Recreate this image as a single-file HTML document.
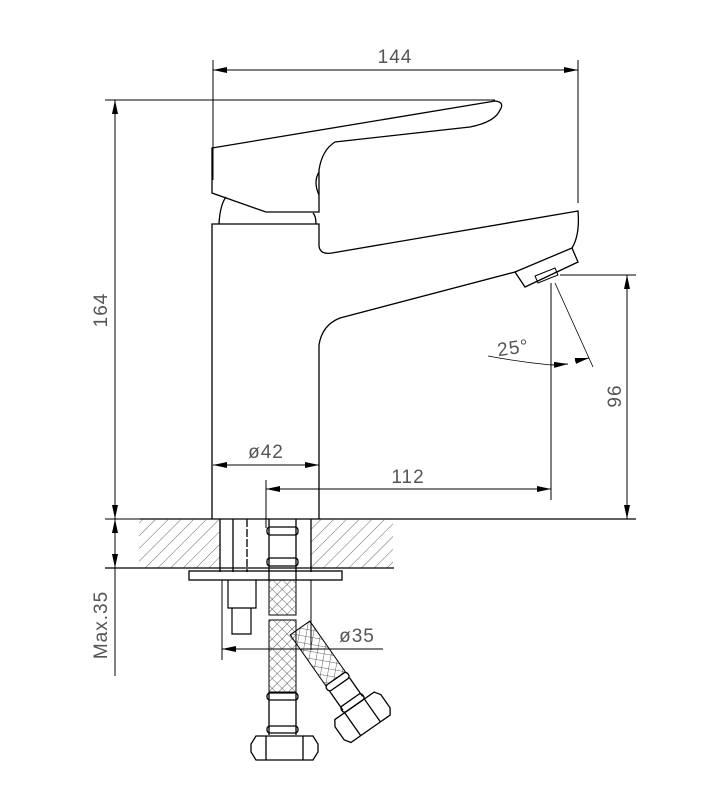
<!DOCTYPE html>
<html><head><meta charset="utf-8"><style>html,body{margin:0;padding:0;background:#fff}svg{display:block}</style></head>
<body>
<svg width="704" height="800" viewBox="0 0 704 800" xmlns="http://www.w3.org/2000/svg">
<defs>
<pattern id="h" width="9" height="9" patternUnits="userSpaceOnUse" patternTransform="rotate(45)"><line x1="0" y1="0" x2="0" y2="9" stroke="#444" stroke-width="0.8"/></pattern>
<pattern id="x" width="7" height="7" patternUnits="userSpaceOnUse" patternTransform="rotate(45)"><path d="M0 0V7M0 0H7" stroke="#333" stroke-width="0.8" fill="none"/></pattern>
<marker id="a" markerWidth="14" markerHeight="6" refX="14" refY="3" orient="auto-start-reverse" markerUnits="userSpaceOnUse"><path d="M0 0L14 3L0 6z" fill="#000"/></marker>
</defs>
<g fill="none" stroke="#000" stroke-width="1.3">
<line x1="213" y1="60" x2="213" y2="180" stroke-width="1"/>
<line x1="578" y1="60" x2="578" y2="203" stroke-width="1"/>
<line x1="213" y1="70" x2="578" y2="70" stroke-width="1" marker-start="url(#a)" marker-end="url(#a)"/>
<line x1="105" y1="100" x2="495" y2="100" stroke-width="1"/>
<line x1="115" y1="100" x2="115" y2="519" stroke-width="1" marker-start="url(#a)" marker-end="url(#a)"/>
<path d="M212 148 L495 101 Q505 102 500 110 Q495 122 470 127 L335 142 Q322 150 319 170 L319 212 L266 212 L212 193 Z"/>
<path d="M319 172 Q313 182 319 195"/>
<path d="M219 224 Q220 205 226 197 M316 224 Q316 216 313 213"/>
<path d="M212 519 L212 224 L319 224 L319 246 Q320 255 332 253 L578 211 Q580 235 572 248 L578 262 L525 287 L515 272 L340 318 Q322 325 319 345 L319 519"/>
<path d="M515 272 L572 248"/>
<path d="M535 276 L555 268 L558 275 L538 283 Z" stroke-width="1"/>
<line x1="560" y1="275" x2="636" y2="275" stroke-width="1"/>
<line x1="627" y1="275" x2="627" y2="519" stroke-width="1" marker-start="url(#a)" marker-end="url(#a)"/>
<line x1="551" y1="283" x2="551" y2="500" stroke-width="1"/>
<line x1="266" y1="480" x2="266" y2="528" stroke-width="1"/>
<line x1="266" y1="489" x2="551" y2="489" stroke-width="1" marker-start="url(#a)" marker-end="url(#a)"/>
<line x1="213" y1="465" x2="319" y2="465" stroke-width="1" marker-start="url(#a)" marker-end="url(#a)"/>
<line x1="555" y1="283" x2="593" y2="367" stroke-width="0.8"/>
<path d="M488 356 Q520 362 551 365" stroke-width="0.8"/>
<line x1="551" y1="365" x2="568" y2="364" stroke-width="1" marker-end="url(#a)"/>
<line x1="575" y1="361" x2="589" y2="358" stroke-width="1" marker-end="url(#a)"/>
<line x1="140" y1="519" x2="636" y2="519"/>
<rect x="139" y="519" width="81" height="49" fill="url(#h)" stroke="none"/>
<rect x="311" y="519" width="82" height="49" fill="url(#h)" stroke="none"/>
<line x1="105" y1="568" x2="394" y2="568"/>
<line x1="105" y1="519" x2="140" y2="519" stroke-width="1"/>
<line x1="115" y1="519" x2="115" y2="568" stroke-width="1" marker-start="url(#a)" marker-end="url(#a)"/>
<line x1="115" y1="568" x2="115" y2="676" stroke-width="1"/>
<line x1="220" y1="519" x2="220" y2="572"/><line x1="233" y1="519" x2="233" y2="572"/>
<line x1="247" y1="519" x2="247" y2="572" stroke-dasharray="8 2"/>
<line x1="311" y1="519" x2="311" y2="572"/>
<rect x="189" y="571" width="153" height="9"/>
<path d="M228 580 V608 H256 V580 M232 608 V634 H251 V608" stroke-width="1.2"/>
<line x1="222" y1="580" x2="222" y2="660" stroke-width="1"/>
<line x1="311" y1="580" x2="311" y2="650" stroke-width="1"/>
<line x1="383" y1="649" x2="222" y2="649" stroke-width="1" marker-end="url(#a)"/>
<rect x="269" y="580" width="27" height="35" fill="url(#x)" stroke-width="1"/>
<rect x="269" y="620" width="27" height="72" fill="url(#x)" stroke-width="1"/>
<path d="M269 519 V580 M296 519 V580" />
<rect x="267" y="527" width="31" height="8" rx="3"/>
<rect x="267" y="558" width="31" height="8" rx="3"/>
<path d="M269 692 V735 M296 692 V735"/>
<rect x="267" y="693" width="31" height="7" rx="3"/>
<rect x="267" y="726" width="31" height="7" rx="3"/>
<path d="M256 736 H313 L318 744 V752 L313 760 H256 L251 752 V744 Z"/>
<path d="M266 736 V760 M303 736 V760"/>
<g transform="translate(300 628) rotate(-35)">
<rect x="-12" y="0" width="24" height="62" fill="url(#x)" stroke-width="1"/>
<rect x="-13" y="62" width="26" height="7" rx="3"/>
<path d="M-12 69 V92 M12 69 V92"/>
<rect x="-13" y="88" width="26" height="7" rx="3"/>
<path d="M-24 95 H24 L28 101 V117 L24 123 H-24 L-28 117 V101 Z"/>
<path d="M-12 95 V123 M12 95 V123"/>
</g>
</g>
<g font-family="Liberation Sans, sans-serif" font-size="19" fill="#555" stroke="none" letter-spacing="1">
<text x="395" y="63" text-anchor="middle">144</text>
<text x="408" y="483" text-anchor="middle">112</text>
<text x="266" y="458" text-anchor="middle">ø42</text>
<text x="357" y="642" text-anchor="middle">ø35</text>
<text x="514" y="354" text-anchor="middle" transform="rotate(-8 514 354)">25°</text>
<text transform="translate(107 310) rotate(-90)" text-anchor="middle">164</text>
<text transform="translate(621 396) rotate(-90)" text-anchor="middle">96</text>
<text transform="translate(107 625) rotate(-90)" text-anchor="middle">Max.35</text>
</g>
</svg>
</body></html>
